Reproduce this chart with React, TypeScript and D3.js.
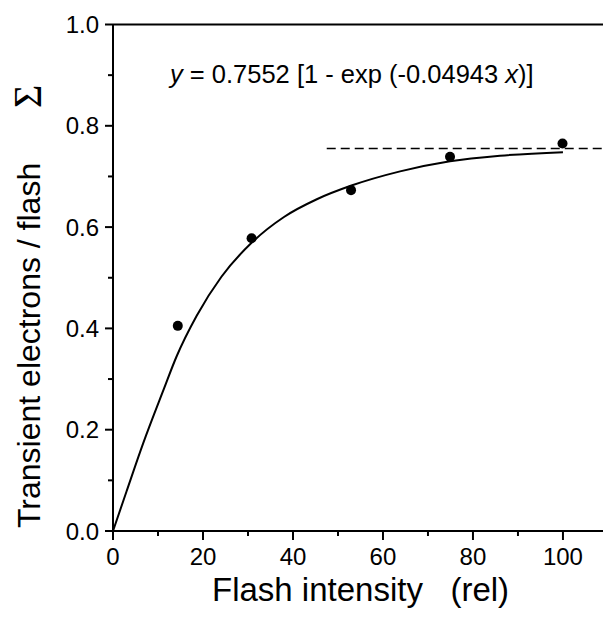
import React from "react";
import * as d3 from "d3";

const pointX = [14.4, 30.8, 52.9, 74.9, 99.9];
const pointY = [0.405, 0.578, 0.673, 0.739, 0.765];

const curveX = [0, 3, 6.7, 11.2, 14.1, 18.6, 24.1, 30.8, 38, 45.3, 53, 63.8, 74.9, 86, 100];
const curveY = [0, 0.078, 0.173, 0.278, 0.344, 0.425, 0.502, 0.569, 0.62, 0.655, 0.682, 0.71, 0.73, 0.741, 0.748];

const asymptote = 0.7552;
const asymptoteStart = 47.5;

const xMajorTicks = [0, 20, 40, 60, 80, 100];
const xMinorTicks = [10, 30, 50, 70, 90];
const yMajorTicks = [0, 0.2, 0.4, 0.6, 0.8, 1.0];
const yMinorTicks = [0.1, 0.3, 0.5, 0.7, 0.9];

const W = 603;
const H = 621;
const left = 113;
const right = 603;
const top = 24.5;
const bottom = 531;

export default function App() {
  const x = d3.scaleLinear().domain([0, 108.9]).range([left, right]);
  const y = d3.scaleLinear().domain([0, 1]).range([bottom, top]);

  const line = d3
    .line<number>()
    .x((_, i) => x(curveX[i]))
    .y((d) => y(d))
    .curve(d3.curveMonotoneX);

  const font = "'Liberation Sans', Arial, sans-serif";

  return (
    <svg
      width={W}
      height={H}
      style={{ position: "absolute", left: 0, top: 0, background: "#fff" }}
      fontFamily={font}
    >
      <rect x={0} y={0} width={W} height={H} fill="#fff" />
      <path d={line(curveY) || ""} fill="none" stroke="#000" strokeWidth={2} />
      <line
        x1={x(asymptoteStart)}
        x2={right}
        y1={y(asymptote)}
        y2={y(asymptote)}
        stroke="#000"
        strokeWidth={1.6}
        strokeDasharray="9,5"
      />
      {pointX.map((px, i) => (
        <circle key={i} cx={x(px)} cy={y(pointY[i])} r={5} fill="#000" />
      ))}
      <line x1={left} x2={right} y1={bottom} y2={bottom} stroke="#000" strokeWidth={2} />
      <line x1={left} x2={right} y1={top} y2={top} stroke="#000" strokeWidth={2} />
      <line x1={left} x2={left} y1={top} y2={bottom + 9} stroke="#000" strokeWidth={2} />
      {xMajorTicks.map((t) => (
        <g key={"xm" + t}>
          <line x1={x(t)} x2={x(t)} y1={bottom} y2={bottom + 9} stroke="#000" strokeWidth={2} />
          <text x={x(t)} y={565} fontSize={24} textAnchor="middle" fill="#000">
            {t}
          </text>
        </g>
      ))}
      {xMinorTicks.map((t) => (
        <line key={"xn" + t} x1={x(t)} x2={x(t)} y1={bottom} y2={bottom + 5} stroke="#000" strokeWidth={2} />
      ))}
      {yMajorTicks.map((t) => (
        <g key={"ym" + t}>
          <line x1={left - 8} x2={left} y1={y(t)} y2={y(t)} stroke="#000" strokeWidth={2} />
          <text x={99} y={y(t) + 8.5} fontSize={24} textAnchor="end" fill="#000">
            {t.toFixed(1)}
          </text>
        </g>
      ))}
      {yMinorTicks.map((t) => (
        <line key={"yn" + t} x1={left - 5} x2={left} y1={y(t)} y2={y(t)} stroke="#000" strokeWidth={2} />
      ))}
      <text x={170} y={83} fontSize={25.5} fill="#000">
        <tspan fontStyle="italic">y</tspan>
        <tspan> = 0.7552 [1 - exp (-0.04943 </tspan>
        <tspan fontStyle="italic">x</tspan>
        <tspan>)]</tspan>
      </text>
      <text x={212} y={601} fontSize={33} fill="#000" style={{ whiteSpace: "pre" }}>
        {"Flash intensity   (rel)"}
      </text>
      <text transform="translate(40,528) rotate(-90)" fontSize={32} fill="#000">
        Transient electrons / flash
      </text>
      <text
        transform="translate(41,108) rotate(-90)"
        fontSize={40}
        fontFamily="'Liberation Serif', 'Times New Roman', serif"
        fill="#000"
      >
        Σ
      </text>
    </svg>
  );
}
